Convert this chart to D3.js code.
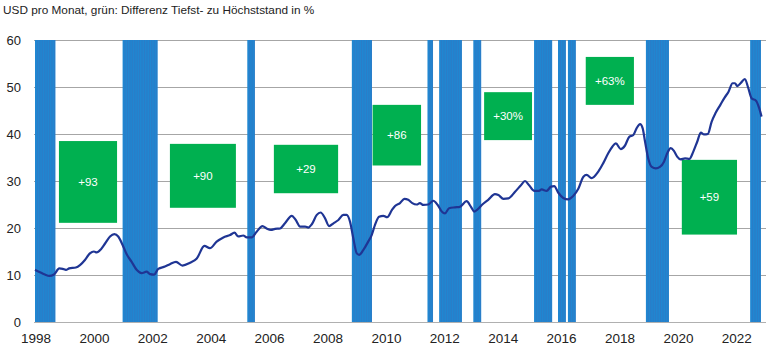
<!DOCTYPE html>
<html>
<head>
<meta charset="utf-8">
<script src="https://cdn.jsdelivr.net/npm/d3@7/dist/d3.min.js"></script>
<style>
html,body{margin:0;padding:0;background:#fff;}
svg{display:block;font-family:"Liberation Sans",Arial,sans-serif;}
</style>
</head>
<body>
<svg id="chart" width="771" height="347"></svg>
<script>
// ---- data ----
const title = "USD pro Monat, grün: Differenz Tiefst- zu Höchststand in %";
const yTicks = [0, 10, 20, 30, 40, 50, 60];
const xTicks = [1998, 2000, 2002, 2004, 2006, 2008, 2010, 2012, 2014, 2016, 2018, 2020, 2022];

// time (decimal year) and price
const times = [
  1998.00,1998.17,1998.34,1998.49,1998.65,1998.83,1998.95,1999.06,1999.17,1999.40,1999.54,1999.71,1999.88,
  2000.02,2000.11,2000.26,2000.40,2000.57,2000.72,2000.85,2001.00,2001.14,2001.31,2001.48,2001.65,2001.82,2001.94,
  2002.08,2002.22,2002.45,2002.62,2002.83,2003.05,2003.31,2003.54,2003.80,2003.99,2004.22,2004.45,2004.68,2004.83,2004.96,
  2005.13,2005.25,2005.42,2005.59,2005.79,2005.93,2006.08,2006.22,2006.39,2006.56,2006.79,2006.93,
  2007.08,2007.25,2007.36,2007.48,2007.65,2007.78,2007.93,2008.07,2008.22,2008.39,2008.56,2008.67,2008.79,2008.90,
  2009.02,2009.10,2009.24,2009.41,2009.53,2009.64,2009.78,2009.93,2010.06,2010.22,2010.33,2010.50,2010.65,2010.78,2010.92,
  2011.07,2011.18,2011.30,2011.47,2011.64,2011.79,2011.93,2012.04,2012.18,2012.38,2012.55,2012.78,2012.93,
  2013.04,2013.18,2013.30,2013.52,2013.75,2013.87,2014.04,2014.21,2014.44,2014.64,2014.78,2014.92,
  2015.10,2015.26,2015.35,2015.52,2015.67,2015.78,2015.92,2016.09,2016.26,2016.43,2016.61,2016.78,2016.89,
  2017.06,2017.29,2017.46,2017.63,2017.77,2017.89,2018.06,2018.20,2018.35,2018.49,2018.60,2018.72,2018.81,2018.89,
  2019.00,2019.12,2019.26,2019.40,2019.54,2019.65,2019.77,2019.88,2019.99,2020.11,2020.26,2020.41,2020.54,2020.68,2020.80,2020.91,
  2021.04,2021.17,2021.30,2021.47,2021.61,2021.75,2021.89,2021.97,2022.05,2022.16,2022.31,2022.42,2022.54,2022.69,2022.80,2022.88
];
const prices = [
  11.1,10.6,10.1,9.8,10.1,11.4,11.3,11.1,11.4,11.6,12.1,13.2,14.6,
  15.0,14.8,15.5,16.7,18.2,18.7,18.2,16.4,14.4,12.8,11.1,10.4,10.7,10.2,
  10.1,11.3,11.8,12.3,12.8,12.0,12.6,13.5,16.2,15.7,17.1,18.0,18.5,19.0,18.2,
  18.4,18.0,18.0,19.2,20.4,19.9,19.6,19.8,19.9,21.0,22.6,21.7,
  20.3,20.3,20.1,20.8,22.8,23.3,22.1,20.4,21.0,21.7,22.8,22.8,21.3,17.8,
  14.6,14.3,15.3,17.1,18.5,20.6,22.4,22.6,22.3,23.8,24.7,25.3,26.2,26.0,25.3,
  25.0,25.3,24.9,25.0,25.8,24.9,23.5,23.1,24.2,24.4,24.5,25.7,24.5,
  23.5,24.1,24.9,26.0,27.2,27.0,26.2,26.3,27.7,29.1,30.0,29.1,
  27.9,27.9,28.2,27.9,28.8,28.9,27.5,26.4,26.1,26.8,28.4,30.9,31.3,
  30.6,32.0,33.8,35.9,37.3,38.0,36.8,37.5,39.4,39.8,41.2,42.1,41.2,38.4,
  34.8,33.0,32.7,33.0,34.1,35.9,37.0,36.4,35.2,34.6,34.8,34.7,36.2,38.4,40.3,39.9,
  40.0,42.6,44.4,46.2,47.7,49.0,50.8,50.8,50.2,50.8,51.7,49.9,47.6,47.1,45.5,43.7
];

// blue shaded periods (decimal years)
const bandStart = [1998.00, 2001.00, 2005.27, 2008.85, 2011.44, 2011.84, 2013.01, 2015.09, 2015.91, 2016.25, 2018.92, 2022.49];
const bandEnd   = [1998.70, 2002.20, 2005.53, 2009.54, 2011.63, 2012.62, 2013.28, 2015.71, 2016.18, 2016.52, 2019.71, 2022.86];

// green annotation boxes
const boxLabels = ["+93", "+90", "+29", "+86", "+30%", "+63%", "+59"];
const boxX0 = [1998.82, 2002.62, 2006.18, 2009.56, 2013.38, 2016.86, 2020.15];
const boxX1 = [2000.81, 2004.88, 2008.38, 2011.22, 2015.02, 2018.51, 2022.04];
const boxYTop = [38.5, 37.9, 37.7, 46.2, 48.9, 56.4, 34.5];
const boxYBot = [21.1, 24.3, 27.4, 33.3, 38.7, 46.2, 18.6];

// ---- drawing ----
const svg = d3.select("#chart");
const x = d3.scaleLinear().domain([1998, 2022.93]).range([35, 763]);
const y = d3.scaleLinear().domain([0, 60]).range([322, 40]);

svg.append("text").attr("x", 3).attr("y", 14)
  .attr("font-size", 11.8).attr("fill", "#222").text(title);

// gridlines
svg.append("g").selectAll("line").data(yTicks).join("line")
  .attr("x1", 34).attr("x2", 766)
  .attr("y1", d => y(d)).attr("y2", d => y(d))
  .attr("stroke", d => d === 0 ? "#b0b0b0" : "#a6a6a6").attr("stroke-width", 1)
  .attr("shape-rendering", "crispEdges");

// bands
const bands = bandStart.map((s, i) => ({s, e: bandEnd[i]}));
const gb = svg.append("g");
gb.selectAll("rect").data(bands).join("rect")
  .attr("x", d => x(d.s)).attr("width", d => x(d.e) - x(d.s))
  .attr("y", y(60)).attr("height", y(0) - y(60))
  .attr("fill", "#2086d1");
// monthly stripes inside bands
const stripes = [];
bands.forEach(b => {
  for (let t = b.s + 1/12; t < b.e - 0.01; t += 1/12) stripes.push(t);
});
gb.selectAll("line").data(stripes).join("line")
  .attr("x1", d => x(d)).attr("x2", d => x(d))
  .attr("y1", y(60)).attr("y2", y(0))
  .attr("stroke", "#3a74bd").attr("stroke-width", 0.7).attr("opacity", 0.7);

// green boxes
const boxes = boxLabels.map((l, i) => ({l, x0: boxX0[i], x1: boxX1[i], yt: boxYTop[i], yb: boxYBot[i]}));
const gg = svg.append("g");
gg.selectAll("rect").data(boxes).join("rect")
  .attr("x", d => x(d.x0)).attr("width", d => x(d.x1) - x(d.x0))
  .attr("y", d => y(d.yt)).attr("height", d => y(d.yb) - y(d.yt))
  .attr("fill", "#00b050");
gg.selectAll("text").data(boxes).join("text")
  .attr("x", d => (x(d.x0) + x(d.x1)) / 2)
  .attr("y", d => (y(d.yt) + y(d.yb)) / 2)
  .attr("dy", "0.35em").attr("text-anchor", "middle")
  .attr("font-size", 11.5).attr("fill", "#fff").text(d => d.l);

// price line
const pts = times.map((t, i) => [t, prices[i]]);
svg.append("path").datum(pts)
  .attr("fill", "none").attr("stroke", "#1f3594").attr("stroke-width", 2.2)
  .attr("stroke-linejoin", "round")
  .attr("d", d3.line().x(d => x(d[0])).y(d => y(d[1])).curve(d3.curveMonotoneX));

// axes labels
svg.append("g").selectAll("text").data(yTicks).join("text")
  .attr("x", 21).attr("y", d => y(d)).attr("dy", "0.35em")
  .attr("text-anchor", "end").attr("font-size", 13).attr("fill", "#222")
  .text(d => d);
svg.append("g").selectAll("text").data(xTicks).join("text")
  .attr("x", d => x(d) + 1).attr("y", 343)
  .attr("text-anchor", "middle").attr("font-size", 13.5).attr("fill", "#222")
  .text(d => d);
</script>
</body>
</html>
